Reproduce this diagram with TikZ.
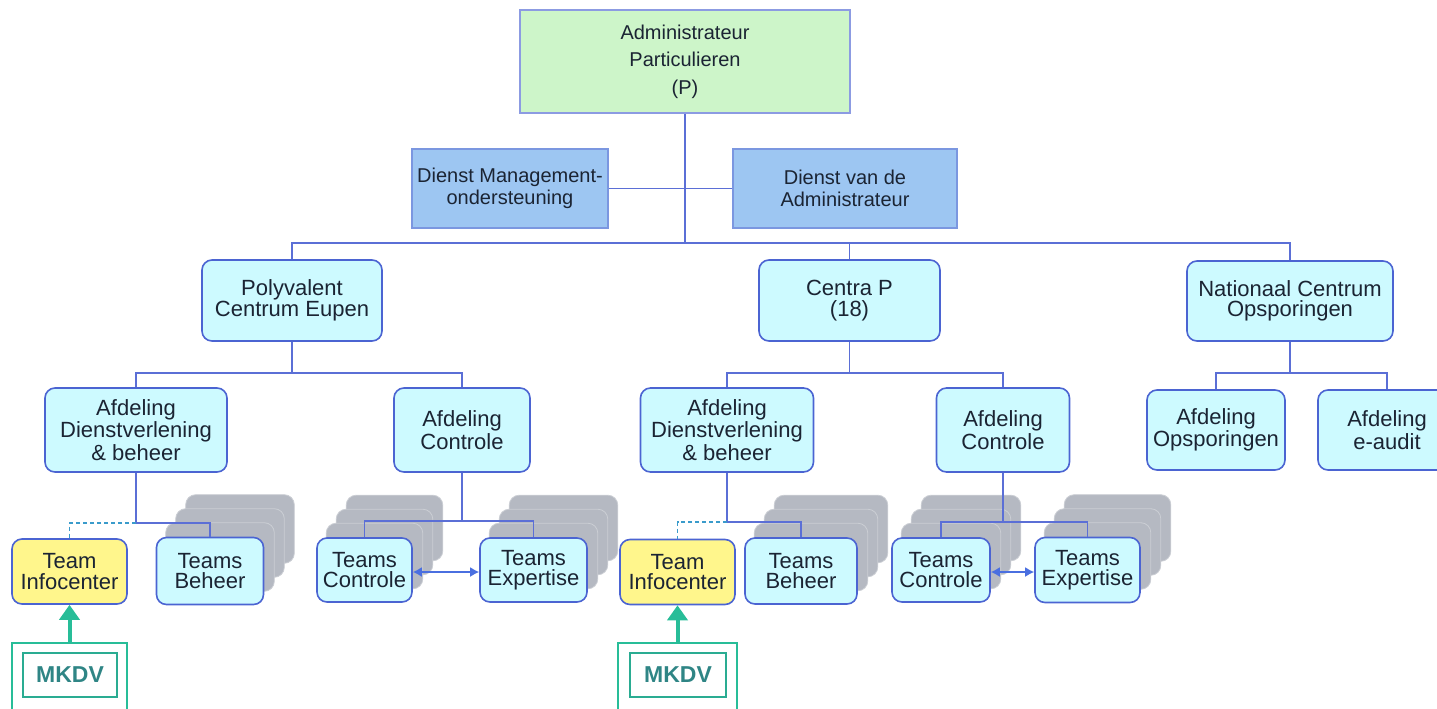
\documentclass[tikz,border=0pt]{standalone}
\usepackage{fontspec}
\setmainfont{Liberation Sans}
\usepackage{xcolor}
\usetikzlibrary{positioning,arrows.meta,backgrounds}

\definecolor{adminfill}{HTML}{CDF5C9}
\definecolor{adminline}{HTML}{8C9BE2}
\definecolor{dienstfill}{HTML}{9DC6F2}
\definecolor{dienstline}{HTML}{7B97E0}
\definecolor{unitfill}{HTML}{CDFAFF}
\definecolor{unitline}{HTML}{4B64D2}
\definecolor{infofill}{HTML}{FFF68C}
\definecolor{linecol}{HTML}{5B6FD6}
\definecolor{dashcol}{HTML}{3A9BCB}
\definecolor{stackgray}{HTML}{B5B9C2}
\definecolor{mkline}{HTML}{28BD98}
\definecolor{mktext}{HTML}{2F8585}
\definecolor{arrowblue}{HTML}{4A6FE0}
\definecolor{textcol}{HTML}{1B2433}

\tikzset{
    unit/.style={draw=unitline, line width=0.8pt, rounded corners=5pt, fill=unitfill,
        align=center, text=textcol, inner sep=0pt, font=\fontsize{11}{10.2}\selectfont},
    infobox/.style={unit, fill=infofill},
    dienst/.style={draw=dienstline, line width=0.7pt, fill=dienstfill, align=center,
        text=textcol, inner sep=0pt, minimum height=39.5pt, font=\fontsize{10}{10.8}\selectfont},
    stack/.style={fill=stackgray, draw=stackgray!70!white, line width=0.4pt, rounded corners=5pt},
    conn/.style={draw=linecol, line width=0.8pt},
    dotconn/.style={draw=dashcol, line width=0.8pt, dash pattern=on 2pt off 1.5pt},
    biarrow/.style={draw=arrowblue, line width=0.8pt, {Latex[length=4.5pt,width=5pt]}-{Latex[length=4.5pt,width=5pt]}},
    mkouter/.style={draw=mkline, line width=1pt, minimum width=#1, minimum height=38.5pt, inner sep=0pt},
    mkinner/.style={draw=mkline!70!mktext, line width=0.9pt, minimum width=#1, minimum height=22pt,
        inner sep=0pt, text=mktext, font=\fontsize{11.5}{12}\selectfont\bfseries},
    mkarrow/.style={draw=mkline, line width=2pt, -{Triangle[width=10pt,length=7.5pt]}}
}

\begin{document}
\begin{tikzpicture}[x=0.5pt, y=-0.5pt]

    \useasboundingbox (0,0) rectangle (1437,708);

    % top of the organisation
    \node[draw=adminline, line width=0.7pt, fill=adminfill, align=center, text=textcol,
        minimum width=165pt, minimum height=51.5pt, inner sep=0pt,
        font=\fontsize{10}{13.75}\selectfont] (adm) at (685,61.5) {Administrateur\\Particulieren\\(P)};
    \node[dienst, minimum width=98pt] (dms) at (510,188.5) {Dienst Management-\\ondersteuning};
    \node[dienst, minimum width=112pt] (dva) at (845,188.5) {Dienst van de\\Administrateur};

    % centra
    \node[unit, minimum width=90pt, minimum height=40.5pt] (pce) at (292,300.5) {Polyvalent\\Centrum Eupen};
    \node[unit, minimum width=90.5pt, minimum height=40.5pt] (cp) at (849.5,300.5) {Centra P\\(18)};
    \node[unit, minimum width=103pt, minimum height=40pt] (nco) at (1290,301) {Nationaal Centrum\\Opsporingen};

    % afdelingen
    \node[unit, minimum width=91pt, minimum height=42pt] (adb1) at (136,430) {Afdeling\\Dienstverlening\\\& beheer};
    \node[unit, minimum width=68pt, minimum height=42pt] (ac1) at (462,430) {Afdeling\\Controle};
    \node[unit, minimum width=86.5pt, minimum height=42pt] (adb2) at (727,430) {Afdeling\\Dienstverlening\\\& beheer};
    \node[unit, minimum width=66.5pt, minimum height=42pt] (ac2) at (1003,430) {Afdeling\\Controle};
    \node[unit, minimum width=69pt, minimum height=40pt] (ao) at (1216,430) {Afdeling\\Opsporingen};
    \node[unit, minimum width=69pt, minimum height=40pt] (ae) at (1387,430) {Afdeling\\e-audit};

    % teams
    \node[infobox, minimum width=57.5pt, minimum height=32.5pt] (ti1) at (69.5,571.5) {Team\\Infocenter};
    \node[unit, minimum width=53.5pt, minimum height=33.5pt] (tb1) at (210,571) {Teams\\Beheer};
    \node[unit, minimum width=47.5pt, minimum height=32pt] (tc1) at (364.5,570) {Teams\\Controle};
    \node[unit, minimum width=53.5pt, minimum height=32pt] (te1) at (533.5,570) {Teams\\Expertise};
    \node[infobox, minimum width=57.5pt, minimum height=32.5pt] (ti2) at (677.5,572) {Team\\Infocenter};
    \node[unit, minimum width=56pt, minimum height=33pt] (tb2) at (801,571) {Teams\\Beheer};
    \node[unit, minimum width=49pt, minimum height=32pt] (tc2) at (941,570) {Teams\\Controle};
    \node[unit, minimum width=52.5pt, minimum height=32.5pt] (te2) at (1087.5,570) {Teams\\Expertise};

    % MKDV
    \node[mkouter=57.5pt] (mk1) at (69.5,681.5) {};
    \node[mkinner=47pt] (mk1t) at (70,675) {MKDV};
    \node[mkouter=59.5pt] (mk2) at (677.5,681.5) {};
    \node[mkinner=48pt] (mk2t) at (678,675) {MKDV};

    % stacked teams behind
    \begin{scope}[on background layer]
        \foreach \t in {tb1,tc1,te1,tb2,tc2,te2}
            \foreach \i in {3,2,1}
                \draw[stack] ([shift={(10*\i,-14*\i)}]\t.south west) rectangle ([shift={(10*\i,-14*\i)}]\t.north east);
    \end{scope}

    % bus points
    \coordinate (bus) at (685,243);
    \coordinate (pbus) at (292,373);
    \coordinate (cbus) at (849.5,373);
    \coordinate (nbus) at (1290,373);
    \coordinate (tbus1) at (136,523);
    \coordinate (cbus1) at (462,521);
    \coordinate (tbus2) at (727,522);
    \coordinate (cbus2) at (1003,522);

    \draw[conn] (adm.south) -- (bus);
    \draw[conn] (dms.east) -- (dva.west);
    \draw[conn] (pce.north) |- (bus) -| (nco.north);
    \draw[conn] (cp.north) -- (cp.north |- bus);

    \draw[conn] (pce.south) -- (pbus);
    \draw[conn] (adb1.north) |- (pbus) -| (ac1.north);
    \draw[conn] (cp.south) -- (cbus);
    \draw[conn] (adb2.north) |- (cbus) -| (ac2.north);
    \draw[conn] (nco.south) -- (nbus);
    \draw[conn] (ao.north) |- (nbus) -| (ae.north);

    \draw[conn] (adb1.south) -- (tbus1) -| (tb1.north);
    \draw[dotconn] (tbus1) -| (ti1.north);
    \draw[conn] (ac1.south) -- (cbus1);
    \draw[conn] (tc1.north) |- (cbus1) -| (te1.north);
    \draw[conn] (adb2.south) -- (tbus2) -| (tb2.north);
    \draw[dotconn] (tbus2) -| (ti2.north);
    \draw[conn] (ac2.south) -- (cbus2);
    \draw[conn] (tc2.north) |- (cbus2) -| (te2.north);

    \draw[biarrow] ([yshift=-1pt]tc1.east) -- ([yshift=-1pt]te1.west);
    \draw[biarrow] ([yshift=-1pt]tc2.east) -- ([yshift=-1pt]te2.west);

    \draw[mkarrow] (mk1.north) -- (ti1.south);
    \draw[mkarrow] (mk2.north) -- (ti2.south);

\end{tikzpicture}
\end{document}
